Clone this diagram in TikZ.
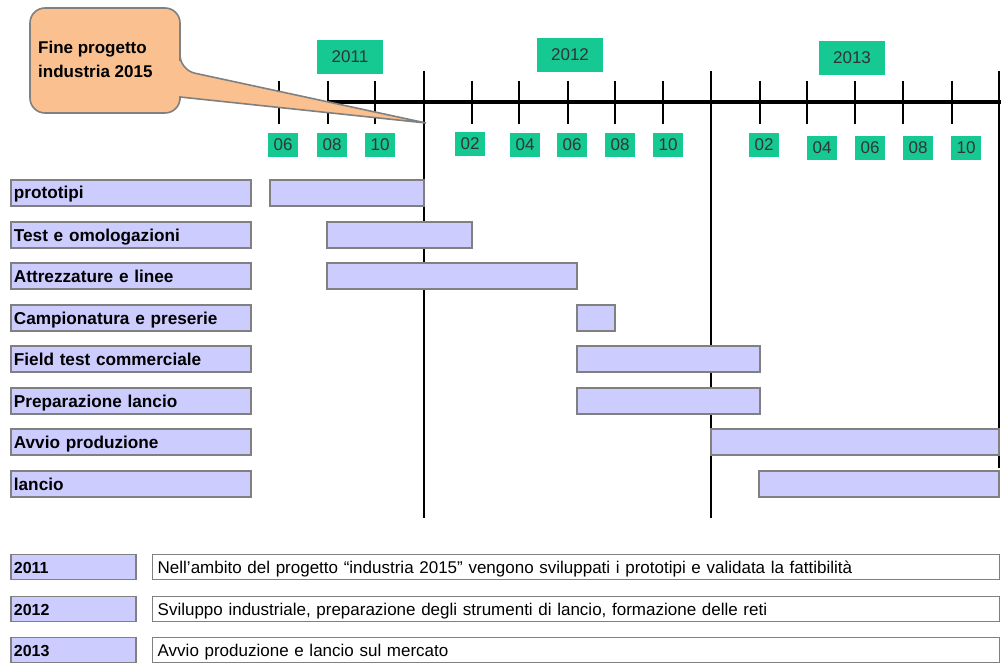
\documentclass[tikz,border=0pt]{standalone}
\usepackage{fontspec}
\setmainfont{Liberation Sans}
\usetikzlibrary{positioning}
\definecolor{tlgreen}{RGB}{22,200,146}
\definecolor{barfill}{RGB}{204,204,255}
\definecolor{barline}{RGB}{128,128,128}
\definecolor{peach}{RGB}{250,192,144}
\tikzset{
  bar/.style={draw=barline,line width=1.8pt,fill=barfill},
  tasklabel/.style={bar,anchor=west,minimum height=26pt,inner xsep=3pt,inner ysep=0pt,
    text width=234pt,align=left,text height=13pt,text depth=1pt,
    font=\fontsize{17.2}{19}\selectfont\bfseries},
  monthbox/.style={fill=tlgreen,minimum width=30pt,minimum height=24pt,inner sep=0pt,
    text=black!80,font=\fontsize{17}{19}\selectfont},
  yearbox/.style={monthbox,minimum width=66pt,minimum height=34pt},
  tick/.style={line width=1.2pt},
  yearline/.style={line width=1.3pt},
  notelabel/.style={tasklabel,minimum height=25pt,text width=119pt,font=\fontsize{16}{18}\selectfont\bfseries},
  notetext/.style={draw=barline,line width=1.4pt,fill=white,anchor=west,minimum height=25pt,
    inner xsep=5pt,inner ysep=0pt,text width=837pt,align=left,text height=13pt,text depth=1pt,
    font=\fontsize{17}{18}\selectfont},
}
\begin{document}
\begin{tikzpicture}[x=1pt,y=-1pt]
  \useasboundingbox (0,0) rectangle (1001,663);

  % Year boundaries
  \draw[yearline] (424,71) -- (424,518);
  \draw[yearline] (711,71) -- (711,518);
  \draw[line width=2.6pt] (999,71) -- (999,468);

  % Time axis and ticks
  \draw[line width=4pt] (328,102) -- (1001,102);
  \foreach \x in {279,328,472,519,663,760,807,855,903,952}
    \draw[tick] (\x,81) -- (\x,124);
  \foreach \x in {375,568,615}
    \draw[tick,line width=2.6pt] (\x,81) -- (\x,124);

  % Years
  \node[yearbox] (y2011) at (350,57) {2011};
  \node[yearbox] (y2012) at (570,55) {2012};
  \node[yearbox] (y2013) at (852,58) {2013};

  % Months
  \foreach \x/\y/\m [count=\i] in {283/145/06,332/145/08,380/145/10,
      470/144/02,525/145/04,572/145/06,620/145/08,668/145/10,
      764/145/02,822/148/04,870/148/06,918/148/08,966/148/10}
    \node[monthbox] (m\i) at (\x,\y) {\m};

  % Callout
  \coordinate (tip) at (426,123);
  \draw[draw=barline,line width=1.6pt,fill=peach]
    (180,70) -- (tip) -- (180,97) -- (180,100)
    [rounded corners=15pt] -- (180,113) -- (30,113) -- (30,8) -- (180,8) -- (180,70) -- cycle;
  \node[anchor=north west,align=left,inner sep=0pt,
    font=\fontsize{17}{24}\selectfont\bfseries] (fine) at (38,41)
    {Fine progetto\\industria 2015};

  % Activities
  \foreach \t/\yc [count=\i] in {prototipi/193,Test e omologazioni/235,
      Attrezzature e linee/276,Campionatura e preserie/318,
      Field test commerciale/359,Preparazione lancio/401,
      Avvio produzione/442,lancio/484}
    \node[tasklabel] (task\i) at (10,\yc) {\t};

  % Bars
  \foreach \xa/\xb/\yc in {270/424/193,327/472/235,327/577/276,577/615/318,
      577/760/359,577/760/401,711/999/442,759/999/484}
    \draw[bar] (\xa,\yc-13) rectangle (\xb,\yc+13);

  % Notes
  \node[notelabel] (n2011) at (10,567) {2011};
  \node[notelabel] (n2012) at (10,609) {2012};
  \node[notelabel] (n2013) at (10,650) {2013};
  \node[notetext] (d2011) at (152,567)
    {Nell’ambito del progetto “industria 2015” vengono sviluppati i prototipi e validata la fattibilità};
  \node[notetext] (d2012) at (152,609)
    {Sviluppo industriale, preparazione degli strumenti di lancio, formazione delle reti};
  \node[notetext] (d2013) at (152,650)
    {Avvio produzione e lancio sul mercato};
\end{tikzpicture}
\end{document}
